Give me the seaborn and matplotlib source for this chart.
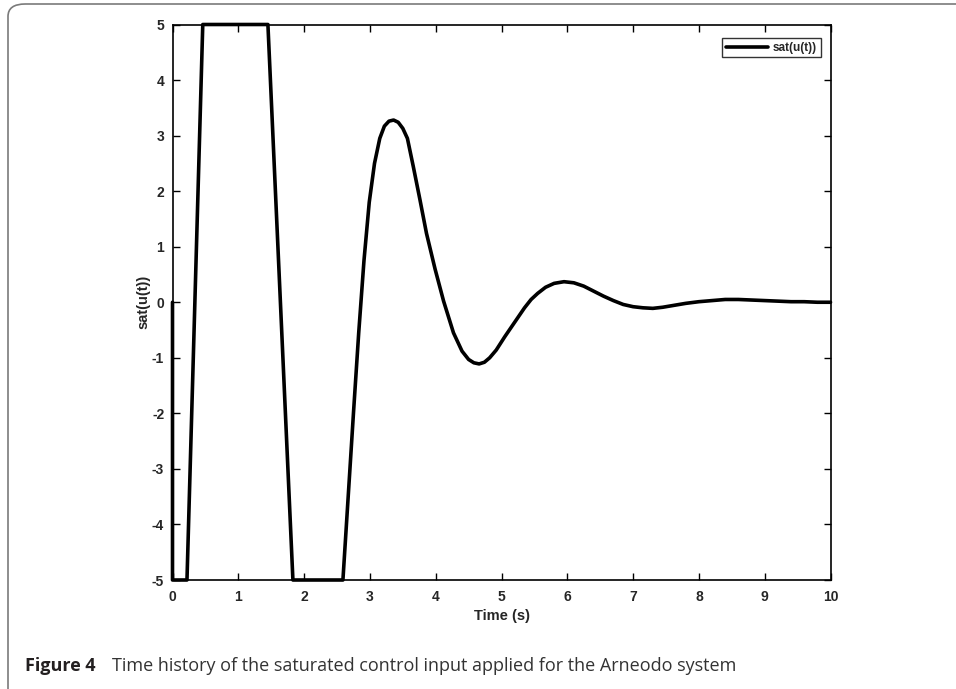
import matplotlib
matplotlib.use("Agg")
import matplotlib.pyplot as plt
from matplotlib.patches import FancyBboxPatch
import seaborn as sns
import pandas as pd

# Saturated control input sat(u(t)) over time
time_s = [0.0, 0.0, 0.22, 0.46, 1.45, 1.83, 2.59, 2.67, 2.75, 2.83, 2.91, 2.99,
          3.07, 3.15, 3.22, 3.29, 3.36, 3.43, 3.50, 3.57, 3.66, 3.76, 3.86, 3.99,
          4.12, 4.27, 4.40, 4.50, 4.58, 4.66, 4.74, 4.82, 4.92, 5.05, 5.20, 5.35,
          5.45, 5.55, 5.67, 5.80, 5.95, 6.10, 6.25, 6.40, 6.55, 6.70, 6.85, 7.00,
          7.15, 7.30, 7.45, 7.60, 7.80, 8.00, 8.20, 8.40, 8.60, 8.80, 9.00, 9.20,
          9.40, 9.60, 9.80, 10.0]
sat_u = [0.0, -5.0, -5.0, 5.0, 5.0, -5.0, -5.0, -3.5, -2.0, -0.55, 0.75, 1.8,
         2.5, 2.95, 3.17, 3.26, 3.28, 3.24, 3.13, 2.95, 2.44, 1.85, 1.24, 0.6,
         0.02, -0.55, -0.88, -1.03, -1.09, -1.11, -1.08, -1.0, -0.86, -0.62, -0.36, -0.1,
         0.05, 0.16, 0.27, 0.34, 0.37, 0.35, 0.29, 0.2, 0.11, 0.03, -0.04, -0.08,
         -0.1, -0.11, -0.09, -0.06, -0.02, 0.01, 0.03, 0.05, 0.05, 0.04, 0.03, 0.02,
         0.01, 0.01, 0.0, 0.0]

x_ticks = list(range(0, 11))
y_ticks = list(range(-5, 6))
series_name = "sat(u(t))"
caption_bold = "Figure 4"
caption_text = "Time history of the saturated control input applied for the Arneodo system"

df = pd.DataFrame({"t": time_s, "u": sat_u, "series": series_name})

sns.set_theme(style="white")
plt.rcParams["font.family"] = ["Liberation Sans", "DejaVu Sans"]

fig = plt.figure(figsize=(9.56, 6.89), dpi=100)
fig.patch.set_facecolor("white")

# rounded frame around the figure panel
frame = FancyBboxPatch((8 / 956, -20 / 689), (1000 - 8) / 956, (689 - 4 + 20) / 689,
                       boxstyle="round,pad=0,rounding_size=0.018",
                       transform=fig.transFigure, facecolor="none",
                       edgecolor="#7a7a7a", linewidth=1.2, clip_on=False)
fig.patches.append(frame)

ax = fig.add_axes([172.5 / 956, 1 - 580 / 689, (830.5 - 172.5) / 956, (580 - 24.5) / 689])
sns.lineplot(data=df, x="t", y="u", hue="series", palette=["black"],
             sort=False, estimator=None, linewidth=2.6, ax=ax)
for ln in ax.get_lines():
    ln.set_clip_on(False)
    ln.set_solid_joinstyle("round")

ax.set_xlim(0, 10)
ax.set_ylim(-5, 5)
ax.set_xticks(x_ticks)
ax.set_yticks(y_ticks)
ax.set_xticklabels([str(v) for v in x_ticks], fontsize=10, fontweight="bold")
ax.set_yticklabels([str(v) for v in y_ticks], fontsize=10, fontweight="bold")
ax.tick_params(axis="both", direction="in", length=5, width=1, color="black",
               top=True, right=True, bottom=True, left=True)
ax.tick_params(axis="x", pad=7)
ax.tick_params(axis="y", pad=6)
for s in ax.spines.values():
    s.set_visible(True)
    s.set_color("black")
    s.set_linewidth(1.2)
ax.set_xlabel("Time (s)", fontsize=10.5, fontweight="bold", labelpad=4)
ax.set_ylabel(series_name, fontsize=10.5, fontweight="bold", labelpad=1)

leg = ax.legend(loc="upper right", fontsize=8.5, frameon=True, fancybox=False,
                borderpad=0.3, handlelength=3.6, handletextpad=0.4,
                borderaxespad=0.0, bbox_to_anchor=(0.985, 0.975))
leg.get_frame().set_edgecolor("black")
leg.get_frame().set_linewidth(1.0)
for t in leg.get_texts():
    t.set_fontweight("bold")

fig.text(25 / 956, 1 - 666 / 689, caption_bold, fontsize=13, fontweight="bold",
         family=["Open Sans", "DejaVu Sans"], color="#231f20", va="center", ha="left")
fig.text(112 / 956, 1 - 666 / 689, caption_text, fontsize=13,
         family=["Open Sans", "DejaVu Sans"], color="#333333", va="center", ha="left")

fig.savefig("out.png", dpi=100, facecolor="white")
